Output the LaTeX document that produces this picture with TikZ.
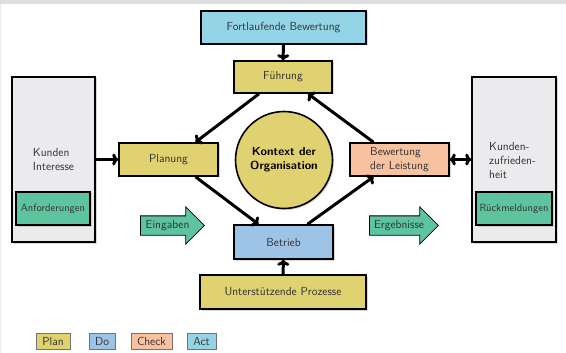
\documentclass[tikz,border=0pt]{standalone}
\usepackage{tikz}
\usetikzlibrary{positioning,shapes.geometric,shapes.arrows,shadows,arrows.meta}
\definecolor{planY}{HTML}{E0D171}
\definecolor{doB}{HTML}{9DC3E6}
\definecolor{checkO}{HTML}{F8C2A0}
\definecolor{actC}{HTML}{93D5E6}
\definecolor{ioG}{HTML}{5EC4A0}
\definecolor{custG}{HTML}{EBEBEE}
\newcommand{\diaFont}{\sffamily\fontsize{11.7}{14}\selectfont}
\newcommand{\boxFont}{\sffamily\fontsize{10.5}{13}\selectfont}
\tikzstyle{recNode} = [rectangle, minimum width=99pt, minimum height=33pt, text centered, draw=black, line width=1.6pt, text=black!80, font=\diaFont, drop shadow={shadow xshift=1.5pt, shadow yshift=-1.5pt, fill=black!30}]
\tikzstyle{recPlan} = [recNode, fill=planY]
\tikzstyle{recDo} = [recNode, fill=doB]
\tikzstyle{recCheck} = [recNode, fill=checkO]
\tikzstyle{recAct} = [recNode, fill=actC]
\tikzstyle{recIO} = [recNode, fill=ioG, minimum height=33pt, font=\boxFont]
\tikzstyle{custNode} = [recNode, fill=custG, minimum height=165pt, align=left]
\tikzstyle{ctxNode} = [circle, minimum size=97pt, inner sep=0pt, draw=black, line width=1.6pt, fill=planY, align=center, font=\diaFont\bfseries, drop shadow={shadow xshift=1.5pt, shadow yshift=-1.5pt, fill=black!30}]
\tikzstyle{ioArrow} = [single arrow, single arrow head extend=9pt, draw=black, line width=0.8pt, fill=ioG, text=black!80, font=\diaFont, text height=8pt, text depth=2.5pt, inner ysep=4pt, inner xsep=3pt, anchor=tail]
\tikzstyle{txtNode} = [text=black!80, font=\diaFont, align=left, inner sep=2pt]
\tikzstyle{legNode} = [rectangle, draw=black!55, line width=0.8pt, minimum height=16pt, inner sep=2pt, text=black!80, font=\diaFont]
\tikzstyle{arrowK} = [line width=3pt, -{To[length=6pt,width=12pt]}, draw=black]
\tikzstyle{arrowD} = [line width=3pt, {To[length=6pt,width=12pt]}-{To[length=6pt,width=12pt]}, draw=black]

\begin{document}
\begin{tikzpicture}[x=1pt,y=-1pt]
    \useasboundingbox (0,0) rectangle (566,353);
    \fill [black!13] (0,0) rectangle (566,4);
    \fill [black!8] (0,4) rectangle (1,353);

    % PDCA cycle
    \node (fort) [recAct, minimum width=165pt] at (283.5,27.5) {Fortlaufende Bewertung};
    \node (fuehr) [recPlan, minimum width=98pt, minimum height=32pt] at (283,77) {Führung};
    \node (plan) [recPlan] at (168.5,159.5) {Planung};
    \node (ctx) [ctxNode] at (284,160) {Kontext der\\Organisation};
    \node (bew) [recCheck, align=left] at (399.5,159.5) {Bewertung\\der Leistung};
    \node (betr) [recDo, minimum height=34pt] at (283.5,242) {Betrieb};
    \node (unter) [recPlan, minimum width=166pt, minimum height=34pt] at (283,292) {Unterstützende Prozesse};

    % customers
    \node (kin) [custNode, minimum width=83pt] at (53.5,159.5) {Kunden\\Interesse};
    \node (anf) [recIO, minimum width=74pt] at (53,208.5) {Anforderungen};
    \node (kzu) [custNode, minimum width=84pt] at (514,159.5) {};
    \node (kzutxt) [txtNode, anchor=west] at (487,160) {Kunden-\\zufrieden-\\heit};
    \node (rueck) [recIO, minimum width=76pt] at (514,208.5) {Rückmeldungen};

    % inputs / outputs
    \node (eing) [ioArrow, minimum height=64pt] at (140,225.5) {Eingaben};
    \node (erg) [ioArrow, minimum height=69pt] at (369,225.5) {Ergebnisse};

    % legend
    \node (lplan) [legNode, fill=planY, minimum width=34pt] at (53,341) {Plan};
    \node (ldo) [legNode, fill=doB, minimum width=26pt] at (102,341) {Do};
    \node (lcheck) [legNode, fill=checkO, minimum width=41pt] at (151.5,341) {Check};
    \node (lact) [legNode, fill=actC, minimum width=29pt] at (201.5,341) {Act};

    \draw [arrowK] (fort) -- (fuehr);
    \draw [arrowK] ([xshift=-24pt]fuehr.south) -- ([xshift=27pt]plan.north);
    \draw [arrowK] ([xshift=27pt]plan.south) -- ([xshift=-25pt]betr.north);
    \draw [arrowK] ([xshift=24pt]betr.north) -- ([xshift=-26pt]bew.south);
    \draw [arrowK] ([xshift=-26pt]bew.north) -- ([xshift=25pt]fuehr.south);
    \draw [arrowK] (kin) -- (plan);
    \draw [arrowD] (bew) -- (kzu);
    \draw [arrowK] (unter) -- (betr);
\end{tikzpicture}
\end{document}
